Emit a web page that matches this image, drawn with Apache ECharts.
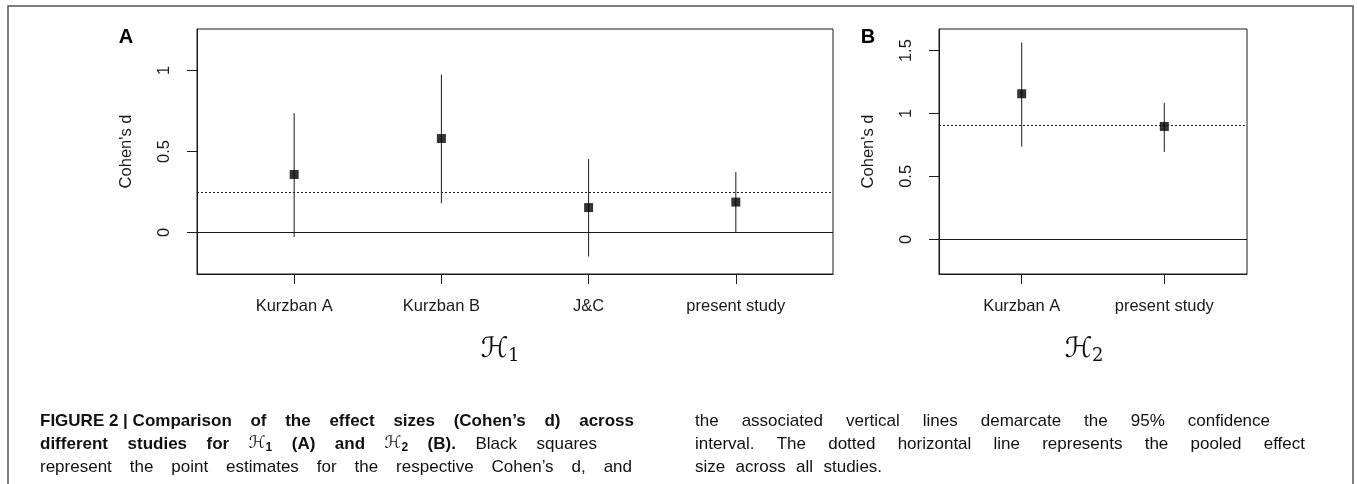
<!DOCTYPE html>
<html>
<head>
<meta charset="utf-8">
<script src="https://cdn.jsdelivr.net/npm/echarts@6/dist/echarts.min.js"></script>
<style>
html,body{margin:0;padding:0;background:#fff;}
#chart{width:1357px;height:484px;}
</style>
</head>
<body>
<div id="chart"></div>
<script>
// ---- data ----
var catsA = ['Kurzban A', 'Kurzban B', 'J&C', 'present study'];
var estA = [0.358, 0.580, 0.154, 0.188];
var loA = [-0.028, 0.181, -0.148, 0.0];
var hiA = [0.737, 0.975, 0.453, 0.373];
var pooledA = 0.249;
var yTicksA = [0, 0.5, 1];

var catsB = ['Kurzban A', 'present study'];
var estB = [1.157, 0.897];
var loB = [0.737, 0.695];
var hiB = [1.565, 1.083];
var pooledB = 0.908;
var yTicksB = [0, 0.5, 1, 1.5];

var yLabel = "Cohen's d";

// ---- chart ----
var chart = echarts.init(document.getElementById('chart'), null, {renderer: 'canvas'});
var FONT = "'Liberation Sans', Arial, sans-serif";
var INK = '#1a1a1a';
var AX_SIZE = 16.5;

function xAxisFor(cats, gridIndex, min, max) {
  var ticks = cats.map(function (c, i) { return i + 1; });
  return {
    type: 'value', gridIndex: gridIndex, min: min, max: max,
    axisLine: {show: true, onZero: false, lineStyle: {color: INK, width: 1}},
    axisTick: {show: true, customValues: ticks, length: 10, inside: false, lineStyle: {color: INK}},
    axisLabel: {show: true, customValues: ticks, margin: 24, fontFamily: FONT, fontSize: AX_SIZE, color: INK,
      formatter: function (v) { return cats[Math.round(v) - 1] || ''; }},
    splitLine: {show: false}
  };
}
function yAxisFor(ticks, gridIndex, min, max) {
  return {
    type: 'value', gridIndex: gridIndex, min: min, max: max,
    name: yLabel, nameLocation: 'middle', nameGap: 62, nameRotate: 90,
    nameTextStyle: {fontFamily: FONT, fontSize: AX_SIZE, color: INK},
    axisLine: {show: true, onZero: false, lineStyle: {color: INK, width: 1}},
    axisTick: {show: true, customValues: ticks, length: 10, lineStyle: {color: INK}},
    axisLabel: {show: true, customValues: ticks, rotate: 90, margin: 24, fontFamily: FONT, fontSize: AX_SIZE, color: INK,
      formatter: function (v) { return String(v); }},
    splitLine: {show: false}
  };
}
function errSeries(lo, hi, idx) {
  return {
    type: 'custom', xAxisIndex: idx, yAxisIndex: idx, silent: true, z: 3,
    data: lo.map(function (v, i) { return [i + 1, v, hi[i]]; }),
    encode: {x: 0, y: [1, 2]},
    renderItem: function (params, api) {
      var p1 = api.coord([api.value(0), api.value(1)]);
      var p2 = api.coord([api.value(0), api.value(2)]);
      return {type: 'line', shape: {x1: p1[0], y1: p1[1], x2: p2[0], y2: p2[1]},
        style: {stroke: INK, lineWidth: 1}};
    }
  };
}
function pointSeries(est, pooled, idx) {
  return {
    type: 'scatter', xAxisIndex: idx, yAxisIndex: idx, z: 5, silent: true,
    symbol: 'rect', symbolSize: 9, itemStyle: {color: '#000'},
    data: est.map(function (v, i) { return [i + 1, v]; }),
    markLine: {
      silent: true, symbol: 'none', animation: false, label: {show: false},
      data: [
        {yAxis: pooled, lineStyle: {color: INK, width: 1, type: [2, 2]}},
        {yAxis: 0, lineStyle: {color: INK, width: 1, type: 'solid'}}
      ]
    }
  };
}

// ---- caption (justified lines) ----
var CAP_SIZE = 17;
var measureCtx = document.createElement('canvas').getContext('2d');
function mw(text, weight, size, fam) {
  measureCtx.font = weight + ' ' + size + 'px ' + fam;
  return measureCtx.measureText(text).width;
}
var HFONT = "'DejaVu Serif', 'DejaVu Sans', serif";
function tokenWidth(tok) {
  if (tok.h) {
    return mw('\u210B', 'normal', CAP_SIZE, HFONT) + mw(tok.h, 'bold', 12, FONT);
  }
  return mw(tok.t, tok.b ? 'bold' : 'normal', CAP_SIZE, FONT);
}
function tokenElem(tok, x, y) {
  if (tok.h) {
    return {type: 'text', x: x, y: y, silent: true, style: {
      text: '{h|\u210B}{s|' + tok.h + '}', verticalAlign: 'middle', align: 'left',
      rich: {h: {fontFamily: HFONT, fontSize: CAP_SIZE, fill: '#111', fontStyle: 'italic'},
             s: {fontFamily: FONT, fontSize: 12, fontWeight: 'bold', fill: '#111', padding: [7, 0, 0, 0]}}
    }};
  }
  return {type: 'text', x: x, y: y, silent: true, style: {
    text: tok.t, fontFamily: FONT, fontSize: CAP_SIZE, fontWeight: tok.b ? 'bold' : 'normal',
    fill: '#111', verticalAlign: 'middle', align: 'left'}};
}
function words(str, bold) { return str.split(' ').map(function (w) { return {t: w, b: bold}; }); }
var capLines = [
  {x0: 40, x1: 634, y: 421, justify: true, toks: [{t: 'FIGURE 2 | Comparison', b: true}].concat(words('of the effect sizes (Cohen\u2019s d) across', true))},
  {x0: 40, x1: 597, y: 444, justify: true, toks: words('different studies for', true).concat([{h: '1'}], words('(A) and', true), [{h: '2'}], words('(B).', true), words('Black squares', false))},
  {x0: 40, x1: 632, y: 467, justify: true, toks: words('represent the point estimates for the respective Cohen\u2019s d, and', false)},
  {x0: 695, x1: 1270, y: 421, justify: true, toks: words('the associated vertical lines demarcate the 95% confidence', false)},
  {x0: 695, x1: 1305, y: 444, justify: true, toks: words('interval. The dotted horizontal line represents the pooled effect', false)},
  {x0: 695, x1: 1305, y: 467, justify: false, toks: words('size across all studies.', false)}
];
var captionElems = [];
capLines.forEach(function (ln) {
  var ws = ln.toks.map(tokenWidth);
  var total = ws.reduce(function (a, b) { return a + b; }, 0);
  var gap = ln.justify && ln.toks.length > 1 ? (ln.x1 - ln.x0 - total) / (ln.toks.length - 1) : mw(' ', 'normal', CAP_SIZE, FONT) * 2.2;
  var x = ln.x0;
  ln.toks.forEach(function (tok, i) {
    captionElems.push(tokenElem(tok, x, ln.y));
    x += ws[i] + gap;
  });
});

function scriptH(sub, cx, cy) {
  return {type: 'text', x: cx, y: cy, silent: true, style: {
    text: '{h|\u210B}{s|' + sub + '}', align: 'center', verticalAlign: 'middle',
    rich: {h: {fontFamily: HFONT, fontSize: 28, fill: '#111', fontStyle: 'italic'},
           s: {fontFamily: "'DejaVu Serif', serif", fontSize: 18, fill: '#111', padding: [12, 0, 0, 0]}}
  }};
}

var option = {
  animation: false,
  backgroundColor: '#fff',
  grid: [
    {left: 197, top: 29, width: 636, height: 245, show: true, borderColor: INK, borderWidth: 1, containLabel: false},
    {left: 939, top: 29, width: 308, height: 245, show: true, borderColor: INK, borderWidth: 1, containLabel: false}
  ],
  xAxis: [xAxisFor(catsA, 0, 0.34, 4.66), xAxisFor(catsB, 1, 0.42, 2.58)],
  yAxis: [yAxisFor(yTicksA, 0, -0.256, 1.256), yAxisFor(yTicksB, 1, -0.276, 1.672)],
  series: [errSeries(loA, hiA, 0), pointSeries(estA, pooledA, 0), errSeries(loB, hiB, 1), pointSeries(estB, pooledB, 1)],
  graphic: [
    {type: 'rect', silent: true, shape: {x: 8, y: 6, width: 1345, height: 600},
      style: {fill: 'none', stroke: '#555', lineWidth: 1.5}},
    {type: 'text', x: 126, y: 37, silent: true, style: {text: 'A', fontFamily: FONT, fontWeight: 'bold', fontSize: 20, fill: '#000', align: 'center', verticalAlign: 'middle'}},
    {type: 'text', x: 868, y: 37, silent: true, style: {text: 'B', fontFamily: FONT, fontWeight: 'bold', fontSize: 20, fill: '#000', align: 'center', verticalAlign: 'middle'}},
    scriptH('1', 500, 350),
    scriptH('2', 1084, 350)
  ].concat(captionElems)
};
chart.setOption(option);
</script>
</body>
</html>
